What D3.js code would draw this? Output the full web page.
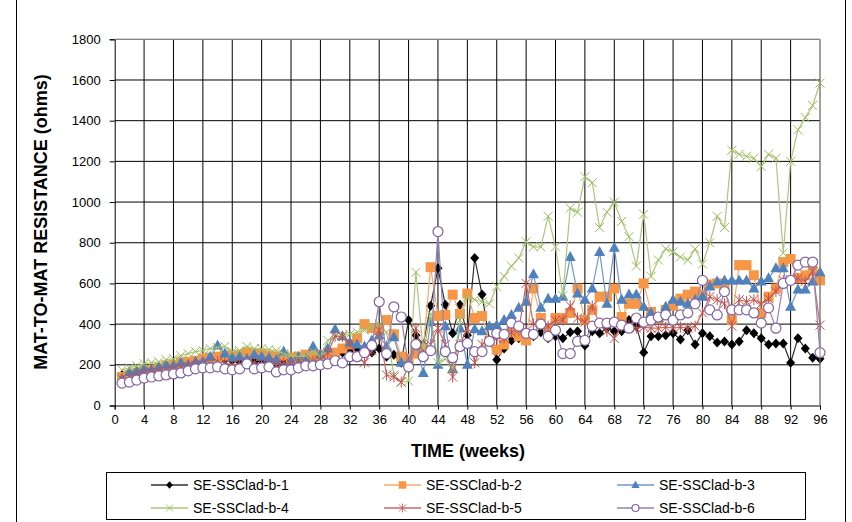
<!DOCTYPE html>
<html><head><meta charset="utf-8">
<script src="https://cdn.jsdelivr.net/npm/d3@7"></script>
<style>body{margin:0;background:#fff;} svg{display:block;font-family:"Liberation Sans",Arial,sans-serif;}</style>
</head><body>
<svg id="chart" width="852" height="522"></svg>
<script>
const weeks = d3.range(1, 97);
const xTicks = d3.range(0, 97, 4);
const yTicks = d3.range(0, 1801, 200);
const seriesNames = ["SE-SSClad-b-1","SE-SSClad-b-2","SE-SSClad-b-3","SE-SSClad-b-4","SE-SSClad-b-5","SE-SSClad-b-6"];
const b1 = [150,155,160,165,175,180,190,200,205,215, 215,220,225,230,225,220,215,225,215,220, 215,205,220,215,225,230,235,240,250,255,
  260,270,280,275,260,280,240,250,210,420, 345,300,490,675,495,355,495,345,725,545, 320,225,280,320,330,330,340,360,330,340,
  330,360,365,295,365,355,380,365,365,420, 390,260,340,340,345,355,325,370,300,355, 340,310,315,300,315,370,355,330,300,305,
  305,210,330,280,235,230];
const b2 = [140,150,160,170,175,185,195,200,210,215, 220,230,235,240,245,245,250,260,255,255, 245,240,245,235,240,250,245,250,240,260,
  280,300,330,400,380,370,420,350,240,230, 255,280,680,440,445,545,450,550,430,440, 315,275,300,360,340,320,575,430,375,430,
  430,455,575,420,470,535,535,575,435,500, 500,600,460,430,470,490,525,545,560,545, 595,600,580,420,690,690,640,455,535,575,
  705,720,625,640,660,615];
const b3 = [130,165,170,180,175,190,200,195,210,200, 215,215,240,295,255,235,240,230,250,240, 235,225,265,220,240,230,290,250,280,375,
  340,310,300,290,320,345,290,335,210,215, 300,160,410,200,390,180,380,200,375,365, 390,395,420,445,480,510,645,480,525,525,
  535,730,550,520,575,755,500,775,520,545, 545,485,455,430,485,520,510,500,520,535, 585,610,615,615,615,615,575,610,625,675,
  675,485,570,570,610,655];
const b4 = [175,185,195,205,210,215,225,230,245,255, 265,270,280,285,290,265,270,290,280,280, 275,270,255,245,240,245,265,240,320,340,
  345,350,360,370,385,400,360,150,115,120, 655,260,450,210,230,180,420,535,520,510, 500,585,635,685,725,805,780,780,930,780,
  540,970,950,1125,1095,875,950,1000,905,830, 685,940,635,715,770,755,730,715,770,695, 800,930,875,1255,1235,1225,1215,1175,1235,1215,
  750,1200,1355,1415,1475,1585];
const b5 = [130,140,150,160,165,170,175,180,185,195, 200,200,205,215,210,200,205,210,210,205, 210,200,210,205,215,210,220,225,260,340,
  340,300,240,210,270,370,150,140,115,190, 380,250,300,380,300,140,300,380,210,300, 320,330,330,360,370,600,400,400,390,420,
  420,490,430,410,490,400,365,330,390,395, 380,385,380,380,385,380,385,380,390,455, 535,520,500,390,520,510,520,500,525,560,
  615,620,625,610,660,395];
const b6 = [110,115,125,135,140,145,150,155,160,170, 180,185,185,190,180,175,180,205,180,185, 190,165,175,175,185,195,195,200,205,220,
  210,240,240,260,295,510,255,485,435,190, 300,240,270,855,265,235,290,305,265,265, 315,355,350,405,390,355,350,400,340,370,
  255,255,315,320,390,405,405,410,395,380, 430,410,420,435,445,420,445,455,500,615, 470,445,560,470,470,470,455,405,480,380,
  600,615,690,705,705,260];
const seriesValues = [b1,b2,b3,b4,b5,b6];

const colors = ["#000000","#F79646","#4F81BD","#9BBB59","#C0504D","#8064A2"];
const lineColors = ["#303030","#F9A86A","#6F97CC","#A9C77A","#C96864","#9680B5"];
const markers = ["diamond","square","triangle","x","star","circle"];

const svg = d3.select("#chart");
const L = 114.7, R = 820, T = 39.3, B = 405.5;
const x = d3.scaleLinear().domain([0,96]).range([L,R]);
const y = d3.scaleLinear().domain([0,1800]).range([B,T]);

// outer chart border
svg.append("rect").attr("x",16.5).attr("y",-2).attr("width",829).attr("height",530)
  .attr("fill","none").attr("stroke","#000").attr("stroke-width",1);

// grid
const g = svg.append("g");
g.selectAll(".vg").data(xTicks.slice(1)).join("line")
  .attr("x1",d=>x(d)).attr("x2",d=>x(d)).attr("y1",T).attr("y2",B)
  .attr("stroke",(d)=> d===96 ? "#808080" : "#000").attr("stroke-width",1);
g.selectAll(".hg").data(yTicks.slice(1)).join("line")
  .attr("x1",L).attr("x2",R).attr("y1",d=>y(d)).attr("y2",d=>y(d))
  .attr("stroke",(d)=> d===1800 ? "#808080" : "#000").attr("stroke-width",1);

// axes
const yAxis = d3.axisLeft(y).tickValues(yTicks).tickFormat(d3.format("d")).tickSize(5).tickPadding(9);
const xAxis = d3.axisBottom(x).tickValues(xTicks).tickFormat(d3.format("d")).tickSize(4).tickPadding(5);
const ya = svg.append("g").attr("transform",`translate(${L},0)`).call(yAxis);
const xa = svg.append("g").attr("transform",`translate(0,${B})`).call(xAxis);
[ya,xa].forEach(a=>{
  a.select(".domain").attr("stroke","#000");
  a.selectAll(".tick line").attr("stroke","#000");
  a.selectAll("text").attr("fill","#000").style("font-size","13px").style("font-family","'Liberation Sans',Arial,sans-serif");
});

// series
function markerPath(type){
  switch(type){
    case "diamond": return `M0,-5L4.5,0L0,5L-4.5,0Z`;
    case "square": return `M-5,-5H5V5H-5Z`;
    case "triangle": return `M0,-6L5.5,4L-5.5,4Z`;
    case "x": return `M-4.5,-4.5L4.5,4.5M-4.5,4.5L4.5,-4.5`;
    case "star": return `M-4.5,-4.5L4.5,4.5M-4.5,4.5L4.5,-4.5M0,-5.5V5.5`;
  }
}
seriesValues.forEach((vals,i)=>{
  const pts = weeks.map((w,j)=>({w, v: vals[j]}));
  const sg = svg.append("g");
  sg.append("path").datum(pts)
    .attr("d", d3.line().x(d=>x(d.w)).y(d=>y(d.v)))
    .attr("fill","none").attr("stroke",lineColors[i]).attr("stroke-width",1.2);
  const m = sg.selectAll(".m").data(pts).join(markers[i]==="circle" ? "circle" : "path")
    .attr("transform",d=>`translate(${x(d.w)},${y(d.v)})`);
  if(markers[i]==="circle"){
    m.attr("r",5).attr("fill","#fff").attr("stroke",colors[i]).attr("stroke-width",1.2);
  } else if(markers[i]==="x" || markers[i]==="star"){
    m.attr("d",markerPath(markers[i])).attr("fill","none").attr("stroke",colors[i]).attr("stroke-width",1);
  } else {
    m.attr("d",markerPath(markers[i])).attr("fill",colors[i]).attr("stroke","none");
  }
});

// plot border top/right in gray drawn above
svg.append("line").attr("x1",L).attr("x2",R).attr("y1",T).attr("y2",T).attr("stroke","#808080");
svg.append("line").attr("x1",R).attr("x2",R).attr("y1",T).attr("y2",B).attr("stroke","#808080");

// titles
svg.append("text").attr("x",468).attr("y",457).attr("text-anchor","middle")
  .style("font-weight","bold").style("font-size","18px").text("TIME (weeks)");
svg.append("text").attr("transform","translate(47,222) rotate(-90)").attr("text-anchor","middle")
  .style("font-weight","bold").style("font-size","18px").text("MAT-TO-MAT RESISTANCE (ohms)");

// legend
svg.append("rect").attr("x",106.5).attr("y",472.5).attr("width",699).attr("height",47)
  .attr("fill","#fff").attr("stroke","#000");
const legCols = [151, 384, 617];
const legRows = [485, 508];
seriesNames.forEach((name,i)=>{
  const cx = legCols[i%3], cy = legRows[Math.floor(i/3)];
  const lg = svg.append("g");
  lg.append("line").attr("x1",cx).attr("x2",cx+37).attr("y1",cy).attr("y2",cy)
    .attr("stroke",lineColors[i]).attr("stroke-width",1.5);
  const mk = lg.append(markers[i]==="circle" ? "circle" : "path").attr("transform",`translate(${cx+18.5},${cy})`);
  if(markers[i]==="circle"){
    mk.attr("r",3.5).attr("fill","#fff").attr("stroke",colors[i]).attr("stroke-width",1.2);
  } else if(markers[i]==="x"||markers[i]==="star"){
    mk.attr("d",markerPath(markers[i])).attr("fill","none").attr("stroke",colors[i]).attr("transform",`translate(${cx+18.5},${cy}) scale(0.8)`);
  } else {
    mk.attr("d",markerPath(markers[i])).attr("fill",colors[i]).attr("transform",`translate(${cx+18.5},${cy}) scale(0.75)`);
  }
  lg.append("text").attr("x",cx+42).attr("y",cy+5).style("font-size","14px").attr("fill","#000").text(name);
});
</script>
</body></html>
